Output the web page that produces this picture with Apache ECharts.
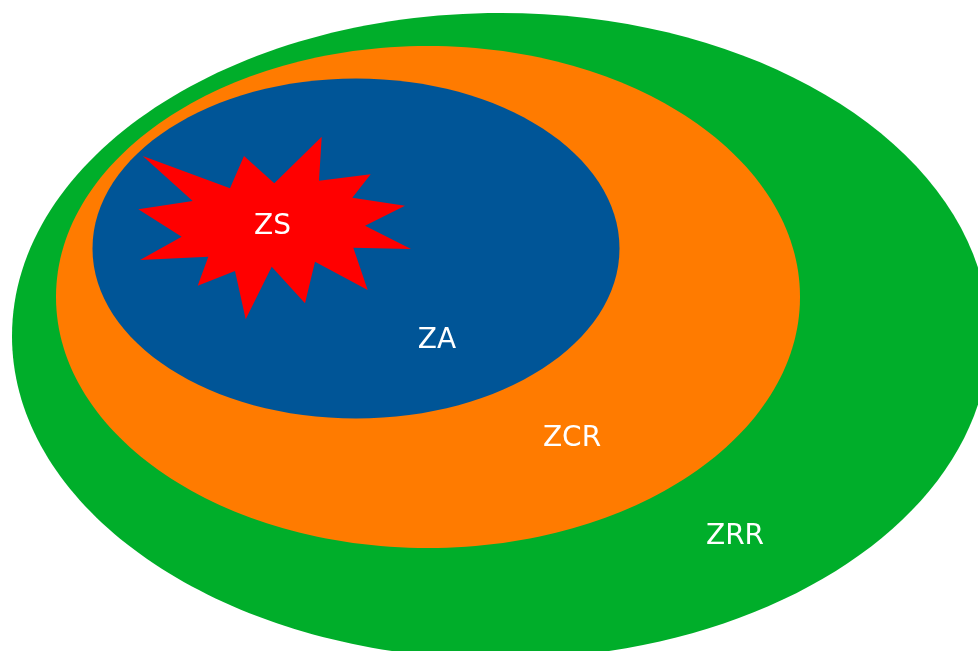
<!DOCTYPE html>
<html>
<head>
<meta charset="utf-8">
<script src="https://cdn.jsdelivr.net/npm/echarts@6/dist/echarts.min.js"></script>
<style>
html,body{margin:0;padding:0;background:#fff;}
#main{width:978px;height:651px;}
</style>
</head>
<body>
<div id="main"></div>
<script>
// Zones (outer to inner): name, centre x, centre y, radius x, radius y (axis units)
var zoneNames = ['ZRR', 'ZCR', 'ZA'];
var zoneCx = [500.5, 428, 356];
var zoneCy = [336, 297, 248.5];
var zoneRx = [488.5, 372, 263.5];
var zoneRy = [323, 251, 170];
var zoneColors = ['#00AE2A', '#FF7B00', '#005597'];

// ZS burst vertices
var starX = [321.7, 319, 370.7, 352.3, 405, 365, 411, 353.3, 367.7, 315, 305, 271.7,
             245.7, 235, 197.7, 208.3, 140, 181.7, 138.3, 192.7, 142.7, 230, 244, 274.3];
var starY = [136.7, 180.7, 174.3, 197.7, 205.7, 225.7, 249, 247.7, 290, 261.7, 303.3, 266.7,
             319.3, 271, 285.7, 256.7, 260, 236.7, 209.3, 201, 156, 188.3, 156, 183.3];

// Labels
var labelNames = ['ZS', 'ZA', 'ZCR', 'ZRR'];
var labelX = [272.5, 437, 572, 735];
var labelY = [225, 338.5, 437, 535];

var chart = echarts.init(document.getElementById('main'));

var zoneData = zoneNames.map(function (n, i) {
  return { name: n, value: [zoneCx[i], zoneCy[i], zoneRx[i], zoneRy[i]], itemStyle: { color: zoneColors[i] } };
});

var option = {
  animation: false,
  grid: { left: 0, right: 0, top: 0, bottom: 0, containLabel: false },
  xAxis: { type: 'value', min: 0, max: 978, show: false },
  yAxis: { type: 'value', min: 0, max: 651, inverse: true, show: false },
  series: [
    {
      type: 'custom',
      coordinateSystem: 'cartesian2d',
      clip: true,
      data: zoneData,
      encode: { x: 0, y: 1 },
      renderItem: function (params, api) {
        var c = api.coord([api.value(0), api.value(1)]);
        var s = api.size([api.value(2), api.value(3)]);
        return {
          type: 'ellipse',
          shape: { cx: c[0], cy: c[1], rx: s[0], ry: s[1] },
          style: { fill: api.visual('color') }
        };
      },
      z: 1
    },
    {
      type: 'custom',
      coordinateSystem: 'cartesian2d',
      clip: true,
      data: [[starX[0], starY[0]]],
      renderItem: function (params, api) {
        var pts = starX.map(function (x, i) { return api.coord([x, starY[i]]); });
        return {
          type: 'polygon',
          shape: { points: pts },
          style: { fill: '#FF0000' }
        };
      },
      z: 2
    },
    {
      type: 'custom',
      coordinateSystem: 'cartesian2d',
      data: labelNames.map(function (n, i) { return { name: n, value: [labelX[i], labelY[i]] }; }),
      encode: { x: 0, y: 1 },
      renderItem: function (params, api) {
        var c = api.coord([api.value(0), api.value(1)]);
        return {
          type: 'text',
          x: c[0],
          y: c[1] + 2,
          style: {
            text: labelNames[params.dataIndex],
            fill: '#FFFFFF',
            fontSize: 28,
            fontFamily: 'DejaVu Sans',
            align: 'center',
            verticalAlign: 'middle',
            opacity: 1
          }
        };
      },
      z: 3
    }
  ]
};
chart.setOption(option);
</script>
</body>
</html>
